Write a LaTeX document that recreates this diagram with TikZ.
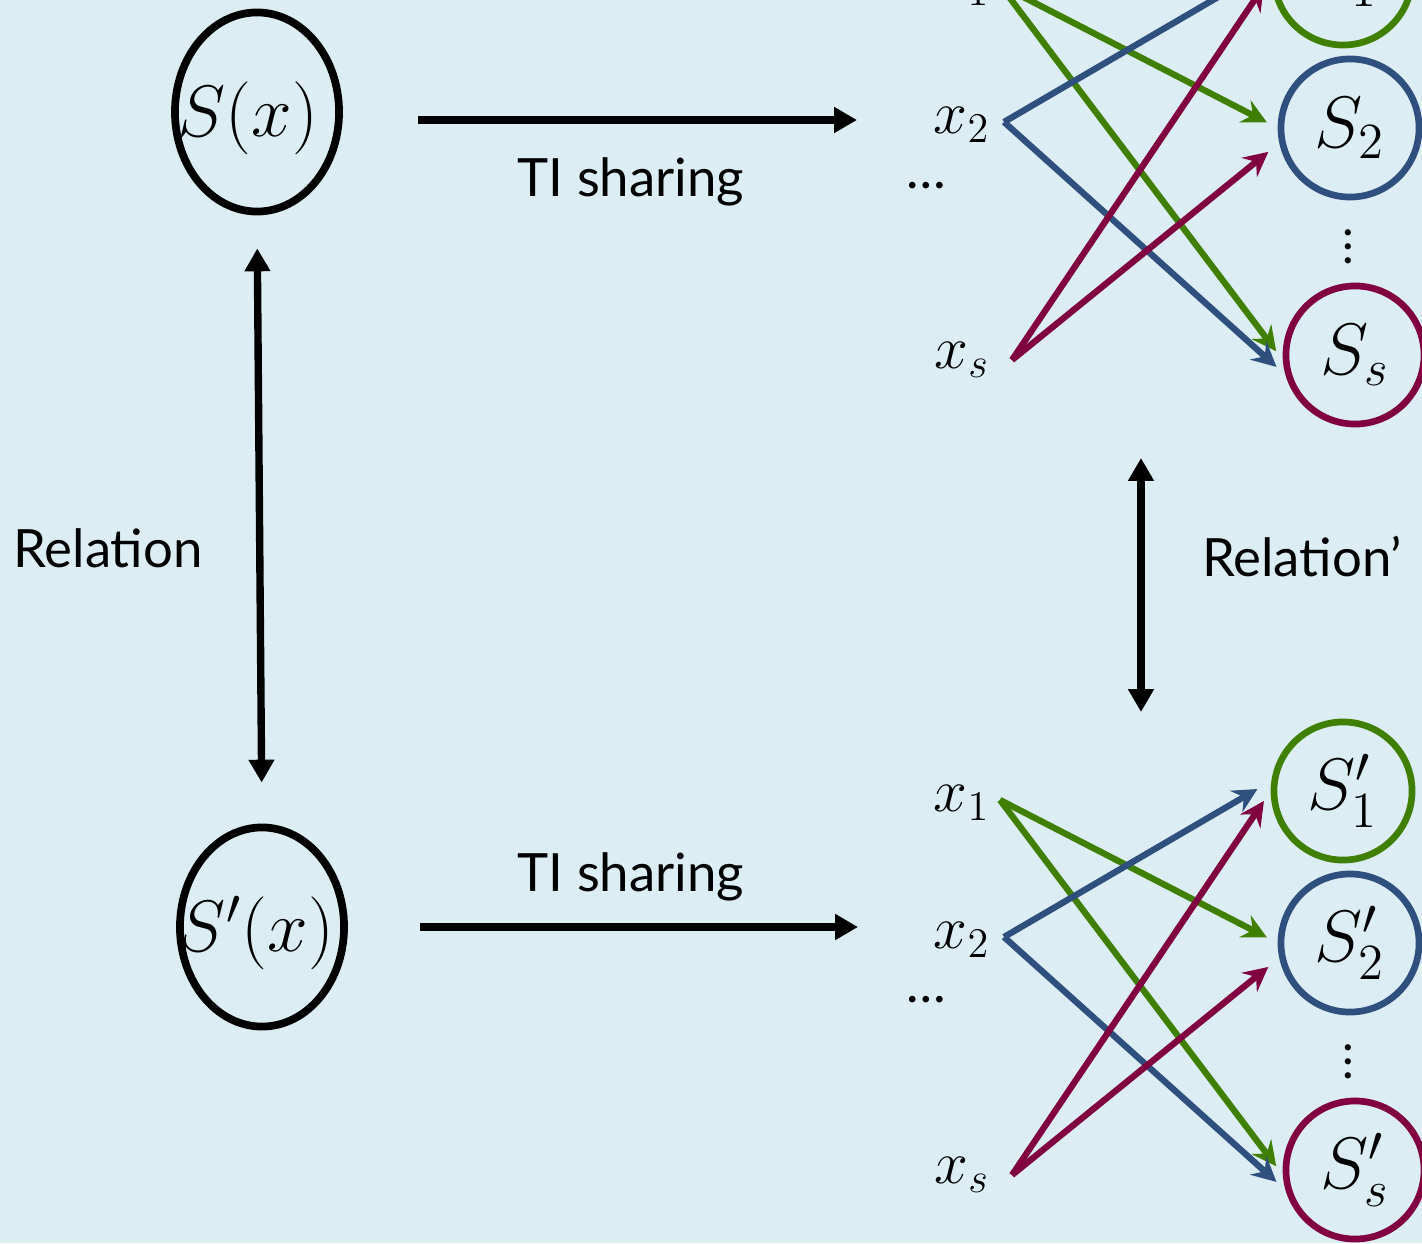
\documentclass[tikz,border=0pt]{standalone}
\usepackage{fontspec}
\setmainfont{Lato}
\usetikzlibrary{arrows.meta,shapes.geometric}
\definecolor{bg}{RGB}{220,238,243}
\definecolor{cgreen}{RGB}{64,128,0}
\definecolor{cblue}{RGB}{47,79,127}
\definecolor{cred}{RGB}{128,0,64}

\begin{document}
\begin{tikzpicture}[x=0.01cm,y=-0.01cm,
  bigell/.style={draw, ellipse, line width=2.2pt, minimum width=1.64cm, minimum height=1.99cm, inner sep=0pt},
  target/.style={draw, circle, line width=1.9pt, minimum size=1.38cm, inner sep=0pt, font=\fontsize{21}{24}\selectfont},
  srclab/.style={font=\fontsize{18}{20}\selectfont},
  biglab/.style={font=\fontsize{20}{24}\selectfont},
  dotsv/.style={font=\fontsize{14}{15}\selectfont, inner sep=0pt},
  flow/.style={line width=1.8pt, -{Stealth[length=7pt,width=7pt,inset=2.5pt]}},
  boldarrow/.style={line width=2.1pt, -{Triangle[length=6.5pt,width=7pt]}},
  bothways/.style={line width=2.1pt, {Triangle[length=6.5pt,width=7pt]}-{Triangle[length=6.5pt,width=7pt]}},
  caption/.style={font=\fontsize{15}{18}\selectfont}
]
\useasboundingbox (0,0) rectangle (1422,1243);
\clip (0,0) rectangle (1422,1243);
\fill[bg] (0,0) rectangle (1422,1243);

% original and transformed secrets
\node[bigell] (Sx) at (257,112) {};
\node[biglab] (Sxlab) at (248,118) {$S(x)$};
\node[bigell] (Spx) at (262,927) {};
\node[biglab] (Spxlab) at (256,933) {$S^{\prime}(x)$};

\draw[bothways, shorten <=0.33cm, shorten >=0.41cm] (Sx.south) -- (Spx.north);
\node[caption] (rel) at (108,548) {Relation};

% TI sharing arrows
\coordinate (t1s) at (418,120);
\coordinate (t1e) at (857,120);
\draw[boldarrow] (t1s) -- (t1e);
\node[caption] (ti1) at (631,182) {TI sharing};
\coordinate (t2s) at (420,927);
\coordinate (t2e) at (858,927);
\draw[boldarrow] (t2s) -- (t2e);
\node[caption] (ti2) at (631,877) {TI sharing};

% relation between the share sets
\coordinate (r1) at (1141,458);
\coordinate (r2) at (1141,712);
\draw[bothways] (r1) -- (r2);
\node[caption] (rel2) at (1302,557) {Relation’};

% upper share graph
\node[target, draw=cgreen] (S1) at (1343,-24) {$S_1$};
\node[target, draw=cblue] (S2) at (1350,128) {$S_2$};
\node[target, draw=cred] (Ss) at (1355,355) {$S_s$};
\node[dotsv] (vd1) at (1348,236) {$\vdots$};
\node[srclab] (x1) at (962,-12) {$x_1$};
\node[srclab] (x2) at (962,125) {$x_2$};
\node[srclab] (xs) at (962,360) {$x_s$};
\node[caption] (dd1) at (926,186) {…};
\coordinate (a1) at (1000,-15);
\coordinate (a2) at (1004,122);
\coordinate (as) at (1012,360);
\draw[flow, cgreen, shorten >=0.12cm] (a1) -- (S2.180);
\draw[flow, cgreen, shorten >=0.11cm] (a1) -- (Ss.184);
\draw[flow, cblue, shorten >=0.16cm] (a2) -- (S1.172);
\draw[flow, cblue, shorten >=0.12cm] (a2) -- (Ss.196);
\draw[flow, cred, shorten >=0.12cm] (as) -- (S1.180);
\draw[flow, cred, shorten >=0.14cm] (as) -- (S2.192);

% lower share graph
\node[target, draw=cgreen] (T1) at (1343,791) {$S_1^{\prime}$};
\node[target, draw=cblue] (T2) at (1350,943) {$S_2^{\prime}$};
\node[target, draw=cred] (Ts) at (1355,1170) {$S_s^{\prime}$};
\node[dotsv] (vd2) at (1348,1051) {$\vdots$};
\node[srclab] (y1) at (962,803) {$x_1$};
\node[srclab] (y2) at (962,940) {$x_2$};
\node[srclab] (ys) at (962,1175) {$x_s$};
\node[caption] (dd2) at (926,1000) {…};
\coordinate (b1) at (1000,800);
\coordinate (b2) at (1004,937);
\coordinate (bs) at (1012,1175);
\draw[flow, cgreen, shorten >=0.12cm] (b1) -- (T2.180);
\draw[flow, cgreen, shorten >=0.11cm] (b1) -- (Ts.184);
\draw[flow, cblue, shorten >=0.16cm] (b2) -- (T1.172);
\draw[flow, cblue, shorten >=0.12cm] (b2) -- (Ts.196);
\draw[flow, cred, shorten >=0.12cm] (bs) -- (T1.180);
\draw[flow, cred, shorten >=0.14cm] (bs) -- (T2.192);
\end{tikzpicture}
\end{document}
